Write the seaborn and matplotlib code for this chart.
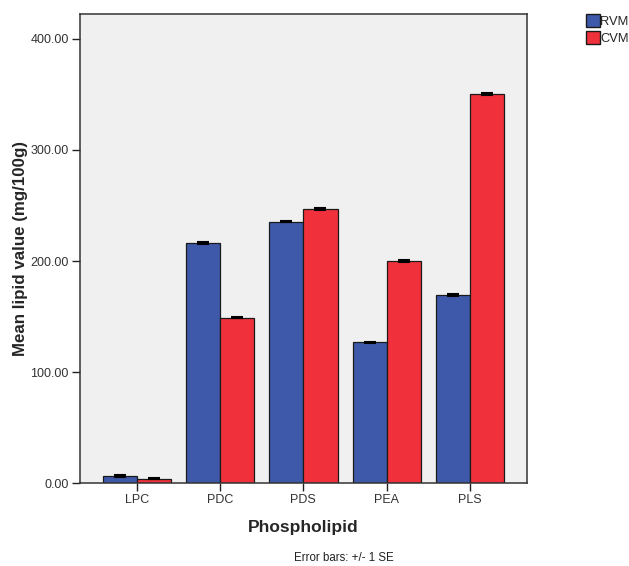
import matplotlib
matplotlib.use("Agg")
import matplotlib.pyplot as plt
import seaborn as sns
import pandas as pd
from matplotlib.patches import Patch

categories = ["LPC", "PDC", "PDS", "PEA", "PLS"]
groups = ["RVM", "CVM"]
rvm_means = [6.5, 216.3, 235.5, 127.0, 169.6]
cvm_means = [4.0, 149.0, 246.9, 200.0, 350.5]
rvm_se = [0.6, 0.6, 0.6, 0.6, 0.6]
cvm_se = [0.5, 0.6, 0.6, 0.6, 0.6]
y_ticks = [0, 100, 200, 300, 400]

colors = {"RVM": "#3E59AA", "CVM": "#F0313C"}

df = pd.DataFrame({
    "Phospholipid": categories * 2,
    "group": ["RVM"] * len(categories) + ["CVM"] * len(categories),
    "mean": rvm_means + cvm_means,
    "se": rvm_se + cvm_se,
})

sns.set_style("white")
plt.rcParams["font.family"] = ["Liberation Sans", "DejaVu Sans"]

fig = plt.figure(figsize=(6.29, 5.66), dpi=100)
ax = fig.add_axes([80 / 629, 1 - 483.3 / 566, 446.7 / 629, 469.3 / 566])
ax.set_facecolor("#F0F0F0")

sns.barplot(data=df, x="Phospholipid", y="mean", hue="group", order=categories,
            hue_order=groups, palette=colors, errorbar=None, width=0.82,
            saturation=1, edgecolor="#1a1a1a", linewidth=0.9, ax=ax, legend=False)

# error bars at each bar centre, +/- 1 SE
for container, g in zip(ax.containers, groups):
    sub = df[df["group"] == g].set_index("Phospholipid").loc[categories]
    xs = [p.get_x() + p.get_width() / 2 for p in container.patches]
    ax.errorbar(xs, sub["mean"], yerr=sub["se"], fmt="none", ecolor="black",
                elinewidth=1.0, capsize=4, capthick=1.5, zorder=5)

ax.set_xlim(-0.68, 4.68)
ax.set_ylim(0, 422.4)
ax.set_yticks(y_ticks)
ax.set_yticklabels([f"{v:.2f}" for v in y_ticks])
ax.tick_params(axis="both", direction="out", length=6, width=1, color="#222222",
               labelsize=9, labelcolor="#333333", left=True, bottom=True, pad=2)
for s in ax.spines.values():
    s.set_visible(True)
    s.set_color("#333333")
    s.set_linewidth(1.1)

ax.set_xlabel("Phospholipid", fontsize=12.5, fontweight="bold", labelpad=10)
ax.set_ylabel("Mean lipid value (mg/100g)", fontsize=12.2, fontweight="bold", labelpad=1.5)

fig.text(344 / 629, 1 - 558 / 566, "Error bars: +/- 1 SE", fontsize=8.3,
         color="#222222", ha="center", va="center")

handles = [Patch(facecolor=colors[g], edgecolor="#1a1a1a", linewidth=1.0) for g in groups]
fig.legend(handles, groups, loc="upper left", bbox_to_anchor=(586 / 629, 1 - 14.5 / 566),
           frameon=False, fontsize=9.3, handlelength=1.05, handleheight=1.1,
           handletextpad=0.05, labelspacing=0.25, borderaxespad=0, borderpad=0)

fig.savefig("out.png", dpi=100, facecolor="white")
